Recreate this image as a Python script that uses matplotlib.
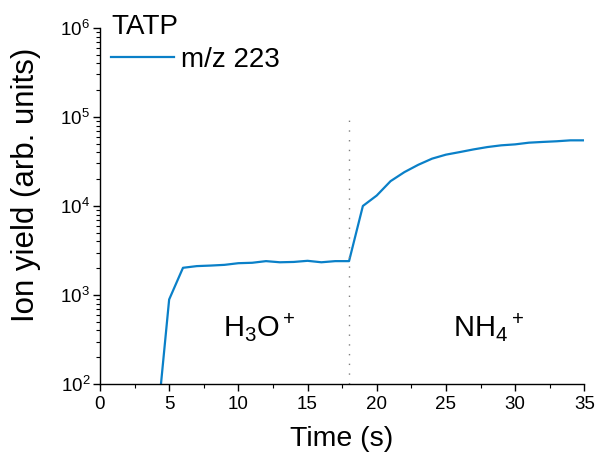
import matplotlib
matplotlib.use("Agg")
import matplotlib.pyplot as plt
from matplotlib.ticker import LogLocator, MultipleLocator

plt.rcParams['font.family'] = ['Liberation Sans', 'DejaVu Sans']
plt.rcParams['mathtext.fontset'] = 'custom'
plt.rcParams['mathtext.rm'] = 'Liberation Sans'
plt.rcParams['mathtext.it'] = 'Liberation Sans'
plt.rcParams['mathtext.default'] = 'regular'

# Ion yield of m/z 223 over time
time_s = [4, 5, 6, 7, 8, 9, 10, 11, 12, 13, 14, 15, 16, 17, 18,
          19, 20, 21, 22, 23, 24, 25, 26, 27, 28, 29, 30, 31, 32, 33, 34, 35]
ion_yield = [22, 890, 2020, 2110, 2140, 2180, 2275, 2300, 2400, 2330, 2350, 2420, 2330, 2400, 2400,
             10000, 13100, 19000, 24000, 29000, 34000, 37700, 40300, 43200, 45900, 48000, 49200,
             51400, 52400, 53300, 54600, 54600]
switch_time = 18
switch_range = [100, 1e5]
region_labels = ["H$_3$O$^+$", "NH$_4$$^+$"]
region_label_x = [11.53, 28.08]
region_label_y = 430

fig = plt.figure(figsize=(5.95, 4.58), dpi=100)
ax = fig.add_axes([0.168, 0.1616, 0.814, 0.7774])

ax.plot(time_s, ion_yield, color="#0a80c8", lw=1.6, label="m/z 223")
ax.plot([switch_time, switch_time], switch_range, color="#808080", lw=1.0,
        linestyle=(0, (1, 6)))

ax.set_yscale("log")
ax.set_xlim(0, 35)
ax.set_ylim(1e2, 1e6)

ax.xaxis.set_major_locator(MultipleLocator(5))
ax.xaxis.set_minor_locator(MultipleLocator(2.5))
ax.yaxis.set_major_locator(LogLocator(base=10, numticks=10))
ax.yaxis.set_minor_locator(LogLocator(base=10, subs=range(2, 10), numticks=20))

for s in ("top", "right"):
    ax.spines[s].set_visible(False)
for s in ("left", "bottom"):
    ax.spines[s].set_linewidth(1.0)

ax.tick_params(axis="both", which="major", direction="out", length=5, width=1.0,
               labelsize=13.5, pad=2)
ax.tick_params(axis="x", which="major", pad=4)
ax.tick_params(axis="both", which="minor", direction="out", length=3, width=0.8)

ax.set_xlabel("Time (s)", fontsize=20.5, labelpad=9)
ax.set_ylabel("Ion yield (arb. units)", fontsize=22.5)
ax.yaxis.set_label_coords(-0.122, 0.56)

for txt, x in zip(region_labels, region_label_x):
    ax.text(x, region_label_y, txt, fontsize=21, ha="center", va="center")

leg = ax.legend(loc="upper left", bbox_to_anchor=(0.0, 1.071), frameon=False,
                title="TATP", fontsize=20, title_fontsize=20, alignment="left",
                handlelength=2.27, handletextpad=0.25, borderaxespad=0.2,
                borderpad=0.2, labelspacing=0.25)

fig.savefig("out.png", dpi=100)
